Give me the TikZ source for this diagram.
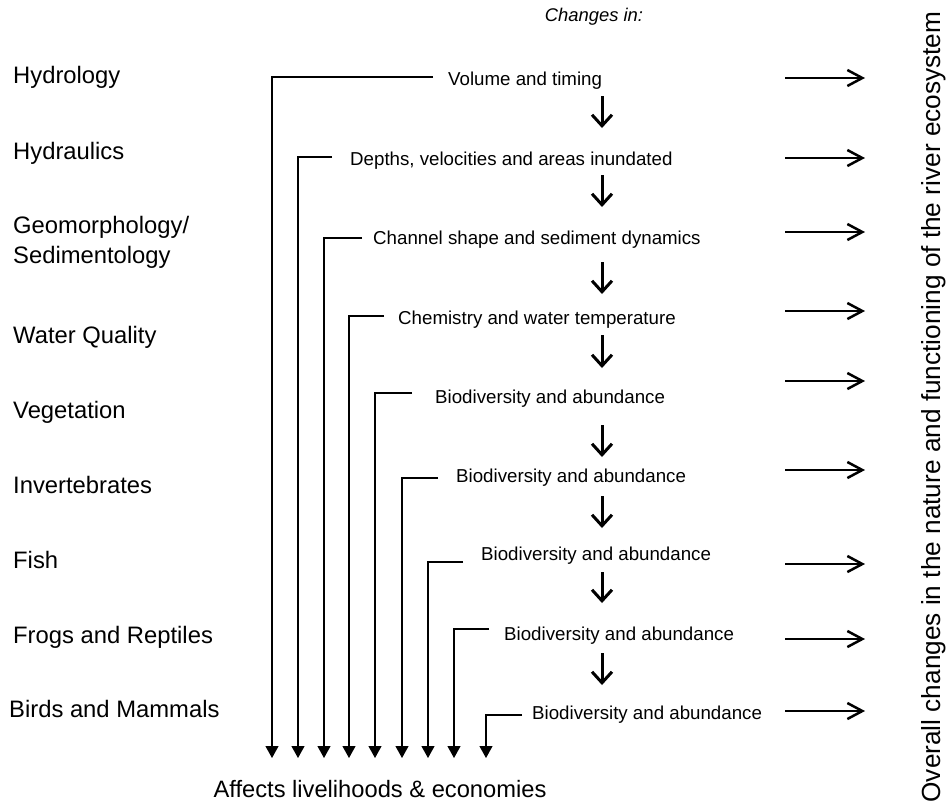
\documentclass[tikz,border=0pt]{standalone}
\usepackage{fontspec}
\setmainfont{Liberation Sans}
\usetikzlibrary{arrows.meta,calc}
\tikzset{
  factor/.style={anchor=base west, inner sep=0pt, font=\fontsize{23.8}{30}\selectfont},
  change/.style={anchor=base west, inner sep=0pt, font=\fontsize{18.7}{22}\selectfont},
  link/.style={line width=1.1pt, -{Triangle[length=12pt,width=13pt]}},
  flow/.style={line width=3pt, -{Straight Barb[length=11pt,width=20pt]}},
  outcome/.style={line width=2.5pt, -{Straight Barb[length=15pt,width=16pt]}},
}
\begin{document}
\begin{tikzpicture}[x=1pt,y=-1pt]
\useasboundingbox (0,0) rectangle (952,807);

% column heading
\node[anchor=base, inner sep=0pt, font=\fontsize{18.4}{22}\selectfont\itshape] (head) at (594,21) {Changes in:};

% disciplines
\node[factor] (f1) at (13,83) {Hydrology};
\node[factor] (f2) at (13,159) {Hydraulics};
\node[factor, anchor=west, align=left] (f3) at (13,242) {Geomorphology/\\Sedimentology};
\node[factor] (f4) at (13,343) {Water Quality};
\node[factor] (f5) at (13,418) {Vegetation};
\node[factor] (f6) at (13,493) {Invertebrates};
\node[factor] (f7) at (13,568) {Fish};
\node[factor] (f8) at (13,643) {Frogs and Reptiles};
\node[factor] (f9) at (9,717) {Birds and Mammals};

% what changes
\node[change] (t1) at (448,85) {Volume and timing};
\node[change] (t2) at (350,165) {Depths, velocities and areas inundated};
\node[change] (t3) at (373,244) {Channel shape and sediment dynamics};
\node[change] (t4) at (398,324) {Chemistry and water temperature};
\node[change] (t5) at (435,403) {Biodiversity and abundance};
\node[change] (t6) at (456,482) {Biodiversity and abundance};
\node[change] (t7) at (481,560) {Biodiversity and abundance};
\node[change] (t8) at (504,640) {Biodiversity and abundance};
\node[change] (t9) at (532,719) {Biodiversity and abundance};

% ends of the links to livelihoods
\coordinate (b1) at (272,758);
\coordinate (b2) at (298,758);
\coordinate (b3) at (324,758);
\coordinate (b4) at (349,758);
\coordinate (b5) at (375,758);
\coordinate (b6) at (402,758);
\coordinate (b7) at (428,758);
\coordinate (b8) at (454,758);
\coordinate (b9) at (486,758);

\draw[link] ($(t1.base west)+(-15,-8)$) -| (b1);
\draw[link] ($(t2.base west)+(-18,-8)$) -| (b2);
\draw[link] ($(t3.base west)+(-11,-6)$) -| (b3);
\draw[link] ($(t4.base west)+(-14,-8)$) -| (b4);
\draw[link] ($(t5.base west)+(-23,-10)$) -| (b5);
\draw[link] ($(t6.base west)+(-18,-4)$) -| (b6);
\draw[link] ($(t7.base west)+(-18,2)$) -| (b7);
\draw[link] ($(t8.base west)+(-15,-11)$) -| (b8);
\draw[link] ($(t9.base west)+(-10,-4)$) -| (b9);

\node[anchor=base, inner sep=0pt, font=\fontsize{23.7}{28}\selectfont] (live) at (380,797) {Affects livelihoods \& economies};

% cascade from one change to the next
\coordinate (col) at (602,0);
\draw[flow] (col |- 0,96) -- (col |- 0,128);
\draw[flow] (col |- 0,175) -- (col |- 0,207);
\draw[flow] (col |- 0,262) -- (col |- 0,294);
\draw[flow] (col |- 0,335) -- (col |- 0,368);
\draw[flow] (col |- 0,425) -- (col |- 0,457);
\draw[flow] (col |- 0,496) -- (col |- 0,528);
\draw[flow] (col |- 0,572) -- (col |- 0,603);
\draw[flow] (col |- 0,653) -- (col |- 0,685);

% towards the overall ecosystem change
\node[rotate=90, anchor=base, inner sep=0pt, font=\fontsize{26.2}{30}\selectfont] (eco) at (940,407)
  {Overall changes in the nature and functioning of the river ecosystem};
\foreach \y [count=\i] in {78,158,232,311,381,470,564,639,711}{
  \coordinate (r\i) at (785,\y);
  \draw[outcome] (r\i) -- ++(80,0);
}
\end{tikzpicture}
\end{document}
